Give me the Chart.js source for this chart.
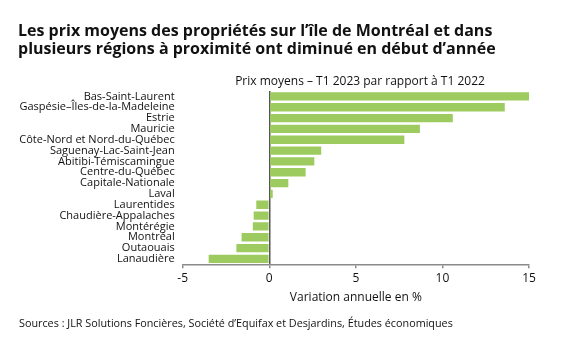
<!DOCTYPE html>
<html lang="fr">
<head>
<meta charset="utf-8">
<script src="https://cdn.jsdelivr.net/npm/chart.js@4"></script>
<style>
  body { margin: 0; background: #fff; }
  #wrap { position: relative; width: 570px; height: 345px; overflow: hidden; font-family: "Open Sans", sans-serif; color: #111; }
  #title { position: absolute; left: 18px; top: 21px; font-size: 16px; font-weight: bold; line-height: 18px; }
  #subtitle { position: absolute; left: 0; width: 720px; top: 72px; font-size: 12px; text-align: center; }
  #sources { position: absolute; left: 19px; top: 315px; font-size: 10.8px; }
  canvas { position: absolute; left: 0; top: 0; }
</style>
</head>
<body>
<div id="wrap">
  <canvas id="chart" width="570" height="345"></canvas>
  <div id="title">Les prix moyens des propriétés sur l’île de Montréal et dans<br>plusieurs régions à proximité ont diminué en début d’année</div>
  <div id="subtitle">Prix moyens – T1 2023 par rapport à T1 2022</div>
  <div id="sources">Sources : JLR Solutions Foncières, Société d’Equifax et Desjardins, Études économiques</div>
</div>
<script>
// données
const regions = [
  'Bas-Saint-Laurent', 'Gaspésie–Îles-de-la-Madeleine', 'Estrie', 'Mauricie',
  'Côte-Nord et Nord-du-Québec', 'Saguenay-Lac-Saint-Jean', 'Abitibi-Témiscamingue',
  'Centre-du-Québec', 'Capitale-Nationale', 'Laval', 'Laurentides',
  'Chaudière-Appalaches', 'Montérégie', 'Montréal', 'Outaouais', 'Lanaudière'
];
const variation = [15.0, 13.6, 10.6, 8.7, 7.8, 3.0, 2.6, 2.1, 1.1, 0.2, -0.75, -0.9, -0.95, -1.6, -1.9, -3.5];
const xTicks = [-5, 0, 5, 10, 15];

const ctx = document.getElementById('chart').getContext('2d');
new Chart(ctx, {
  type: 'bar',
  data: {
    labels: regions,
    datasets: [{
      data: variation,
      backgroundColor: '#9dcb60',
      borderWidth: 0,
      categoryPercentage: 1,
      barPercentage: 0.77
    }]
  },
  options: {
    indexAxis: 'y',
    responsive: false,
    animation: false,
    layout: { padding: { top: 91, right: 41, bottom: 40.7, left: 0 } },
    plugins: { legend: { display: false }, tooltip: { enabled: false } },
    scales: {
      x: {
        min: -5,
        max: 15,
        afterBuildTicks: function(scale) {
          scale.ticks = xTicks.map(v => ({ value: v }));
        },
        afterFit: function(scale) { scale.height = 40; },
        border: { display: true, color: '#8a8a8a', width: 1.5 },
        grid: {
          drawOnChartArea: true,
          drawTicks: true,
          tickLength: 4,
          tickColor: '#8a8a8a',
          lineWidth: 1.5,
          color: c => (c.tick && c.tick.value === 0) ? '#555' : 'rgba(0,0,0,0)'
        },
        ticks: {
          padding: 3,
          color: '#111',
          font: { family: 'Open Sans', size: 12 }
        },
        title: {
          display: true,
          text: 'Variation annuelle en %',
          color: '#111',
          padding: 0,
          font: { family: 'Open Sans', size: 12 }
        }
      },
      y: {
        afterFit: function(scale) { scale.width = 182.7; },
        border: { display: false },
        grid: { display: false, drawTicks: false },
        ticks: {
          padding: 8,
          autoSkip: false,
          color: '#111',
          font: { family: 'Open Sans', size: 11 }
        }
      }
    }
  }
});
</script>
</body>
</html>
